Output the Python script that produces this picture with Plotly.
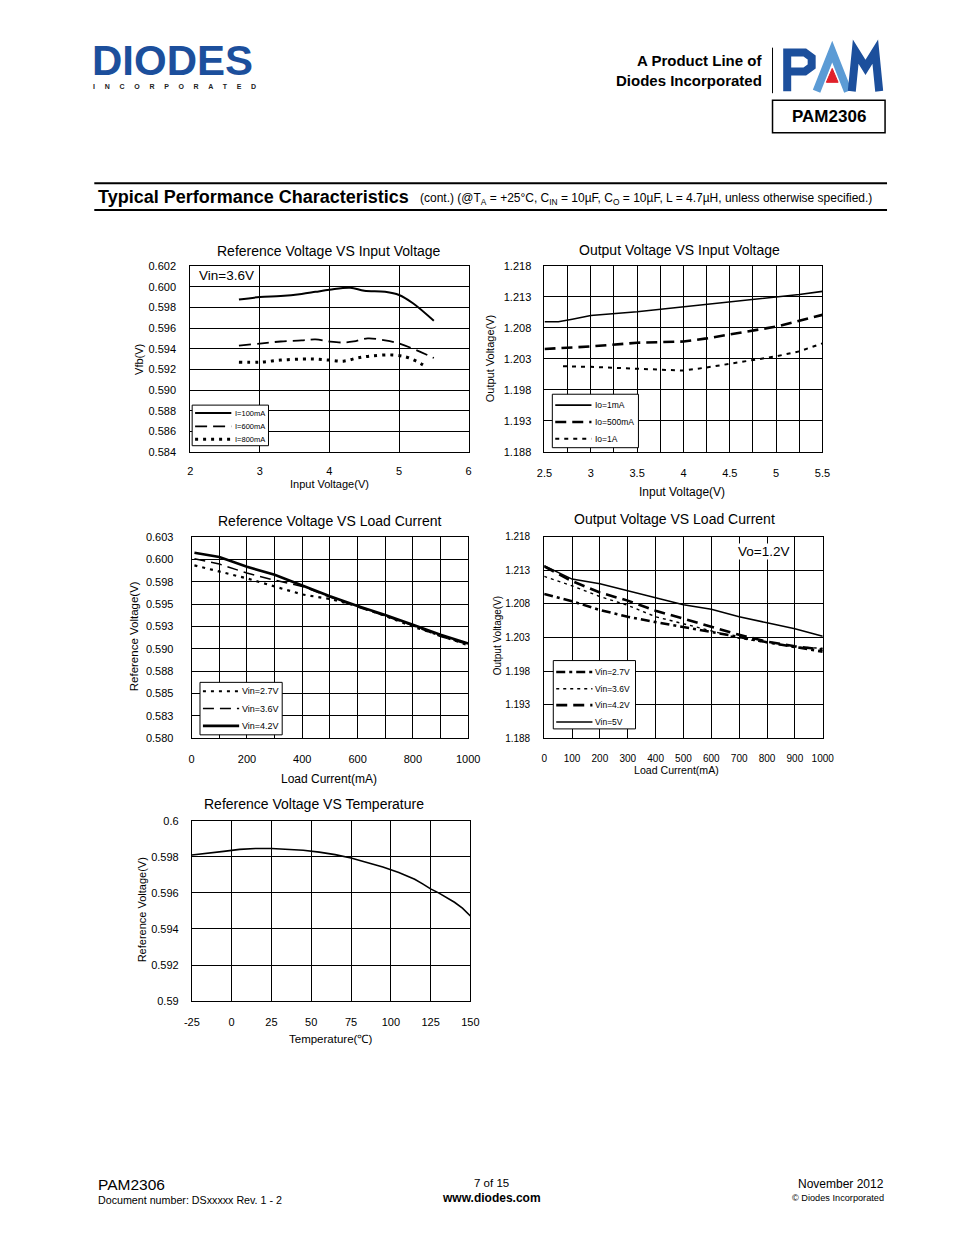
import plotly.graph_objects as go

# page is 954x1235; the html body has an 8px margin, so the figure is 16px smaller
OFF = 8
W, H = 954 - 2 * OFF, 1235 - 2 * OFF

# ---------------- data ----------------
# Chart 1: Reference Voltage VS Input Voltage
vin1_100 = [2.7, 3.0, 3.3, 3.6, 3.8, 4.0, 4.3, 4.5, 4.8, 5.0, 5.2, 5.5]
vfb_100 = [0.59875, 0.5990, 0.5991, 0.5993, 0.5995, 0.5997, 0.5999, 0.5996, 0.5995, 0.5992, 0.5984, 0.5967]
vin1_600 = [2.7, 3.0, 3.3, 3.6, 3.8, 4.0, 4.2, 4.35, 4.55, 4.8, 5.0, 5.2, 5.5]
vfb_600 = [0.5943, 0.5945, 0.5947, 0.5948, 0.5949, 0.5947, 0.5946, 0.5947, 0.5950, 0.5948, 0.5945, 0.5940, 0.5931]
vin1_800 = [2.7, 3.0, 3.3, 3.6, 3.8, 4.0, 4.2, 4.4, 4.6, 4.9, 5.1, 5.25, 5.4]
vfb_800 = [0.5927, 0.5927, 0.5929, 0.5930, 0.5930, 0.5929, 0.5928, 0.5931, 0.5933, 0.5934, 0.5932, 0.5928, 0.5922]
leg1 = ["I=100mA", "I=600mA", "I=800mA"]

# Chart 2: Output Voltage VS Input Voltage
vin2_1ma = [2.5, 2.65, 2.8, 3.0, 3.5, 4.0, 4.25, 4.5, 5.0, 5.25, 5.5]
vo_1ma = [1.2090, 1.2090, 1.2094, 1.2100, 1.2106, 1.2114, 1.2117, 1.2121, 1.2129, 1.2134, 1.2139]
vin2_500 = [2.5, 3.0, 3.5, 4.0, 4.25, 4.5, 5.0, 5.5]
vo_500 = [1.2046, 1.2050, 1.2056, 1.2058, 1.2063, 1.2069, 1.2082, 1.2101]
vin2_1a = [2.7, 3.0, 3.5, 4.0, 4.25, 4.5, 5.0, 5.25, 5.5]
vo_1a = [1.2018, 1.2017, 1.2014, 1.2011, 1.2016, 1.2022, 1.2034, 1.2042, 1.2055]
leg2 = ["Io=1mA", "Io=500mA", "Io=1A"]

# Chart 3: Reference Voltage VS Load Current
il3 = [10, 100, 200, 300, 400, 500, 600, 700, 800, 900, 1000]
ref_27 = [0.59936, 0.5987, 0.5979, 0.5970, 0.5961, 0.5956, 0.5948, 0.5937, 0.5925, 0.5915, 0.5904]
ref_36 = [0.6001, 0.5995, 0.5985, 0.5977, 0.5970, 0.5958, 0.5947, 0.5937, 0.5926, 0.5914, 0.5905]
ref_42 = [0.60076, 0.6003, 0.5992, 0.5983, 0.5971, 0.5959, 0.5948, 0.5938, 0.5927, 0.5916, 0.5906]
leg3 = ["Vin=2.7V", "Vin=3.6V", "Vin=4.2V"]
y3_ticks = [0.5800, 0.5825, 0.5850, 0.5875, 0.5900, 0.5925, 0.5950, 0.5975, 0.6000, 0.6025]
y3_text = ["0.580", "0.583", "0.585", "0.588", "0.590", "0.593", "0.595", "0.598", "0.600", "0.603"]

# Chart 4: Output Voltage VS Load Current
il4 = [0, 100, 200, 300, 400, 500, 600, 700, 800, 900, 1000]
vo_27 = [1.2095, 1.2084, 1.2071, 1.2061, 1.2053, 1.2046, 1.2039, 1.2031, 1.2023, 1.2016, 1.2009]
vo_36 = [1.2121, 1.2107, 1.2091, 1.2078, 1.2061, 1.2051, 1.2040, 1.2029, 1.2023, 1.2016, 1.2014]
vo_42 = [1.2136, 1.2114, 1.2097, 1.2085, 1.2070, 1.2058, 1.2046, 1.2034, 1.2024, 1.2017, 1.2012]
vo_5 = [1.2137, 1.2117, 1.2110, 1.2100, 1.2090, 1.2079, 1.2072, 1.2061, 1.2052, 1.2043, 1.2032]
leg4 = ["Vin=2.7V", "Vin=3.6V", "Vin=4.2V", "Vin=5V"]

# Chart 5: Reference Voltage VS Temperature
temp = [-25, -15, -5, 5, 15, 25, 35, 45, 55, 65, 75, 85, 95, 105, 115, 120, 125, 130, 135, 140, 145, 150]
vref_t = [0.5981, 0.59818, 0.5983, 0.59841, 0.59846, 0.59846, 0.59843, 0.59836, 0.59826, 0.59812, 0.59793,
          0.5977, 0.59743, 0.59713, 0.59675, 0.5965, 0.59622, 0.5960, 0.59575, 0.59548, 0.59515, 0.59472]
x5_ticks = [-25, 0, 25, 50, 75, 100, 125, 150]
x5_text = ["-25", "0", "25", "50", "75", "100", "125", "150"]
y5_ticks = [0.590, 0.592, 0.594, 0.596, 0.598, 0.600]
y5_text = ["0.59", "0.592", "0.594", "0.596", "0.598", "0.6"]

FONT = "Arial, Liberation Sans, sans-serif"


def px(x):
    return (x - OFF) / W


def py(y):
    return 1 - (y - OFF) / H


fig = go.Figure()


def add(x, y, ax, dash, width, shape="linear"):
    fig.add_trace(go.Scatter(x=x, y=y, mode="lines", xaxis="x" + ax, yaxis="y" + ax,
                             line=dict(color="black", width=width, dash=dash, shape=shape),
                             showlegend=False, hoverinfo="skip"))


# chart 1
s1 = [("solid", 2), ("12px,6px", 1.8), ("3px,5px", 3)]
add(vin1_100, vfb_100, "", *s1[0], shape="spline")
add(vin1_600, vfb_600, "", *s1[1], shape="spline")
add(vin1_800, vfb_800, "", *s1[2], shape="spline")
# chart 2
s2 = [("solid", 1.6), ("11px,6px", 2.6), ("4px,5px", 2)]
add(vin2_1ma, vo_1ma, "2", *s2[0])
add(vin2_500, vo_500, "2", *s2[1])
add(vin2_1a, vo_1a, "2", *s2[2])
# chart 3
s3 = [("3px,5px", 2.2), ("11px,6px", 1.5), ("solid", 2.6)]
add(il3, ref_27, "3", *s3[0])
add(il3, ref_36, "3", *s3[1])
add(il3, ref_42, "3", *s3[2])
# chart 4
s4 = [("9px,4px,3px,4px", 2.6), ("3px,4px", 1.4), ("11px,6px", 2.6), ("solid", 1.5)]
add(il4, vo_27, "4", *s4[0])
add(il4, vo_36, "4", *s4[1])
add(il4, vo_42, "4", *s4[2])
add(il4, vo_5, "4", *s4[3])
# chart 5
add(temp, vref_t, "5", "solid", 1.6)


def axis(dom, **kw):
    d = dict(domain=dom, showline=True, mirror=True, linecolor="black", linewidth=1,
             showgrid=True, gridcolor="black", gridwidth=1, zeroline=False, ticks="",
             tickfont=dict(family=FONT, size=11, color="black"), ticklabelstandoff=7,
             fixedrange=True)
    d.update(kw)
    return d


# pixel boxes (x0, x1, ytop, ybottom) in page pixels
b1 = (186, 470.5, 262.5, 450.5)
b2 = (548, 832, 262.5, 450)
b3 = (187.5, 470, 536.5, 739.5)
b4 = (547.7, 832.3, 536, 739.5)
b5 = (187.7, 472.3, 822.7, 1005)


def xd(b):
    return [px(b[0]), px(b[1])]


def yd(b):
    return [py(b[3]), py(b[2])]


TF10 = dict(family=FONT, size=10, color="black")
layout = dict(
    width=W, height=H, margin=dict(l=0, r=0, t=0, b=0),
    paper_bgcolor="white", plot_bgcolor="white",
    font=dict(family=FONT, color="black"),
    xaxis=axis(xd(b1), range=[2, 6], tick0=2, dtick=1, anchor="y", ticklabelstandoff=9),
    yaxis=axis(yd(b1), range=[0.584, 0.602], tick0=0.584, dtick=0.002, tickformat=".3f", anchor="x",
               ticklabelstandoff=11),
    xaxis2=axis(xd(b2), range=[2.5, 5.5], tick0=2.5, dtick=0.5, anchor="y2",
                minor=dict(dtick=0.25, tick0=2.5, showgrid=True, gridcolor="black", gridwidth=1),
                ticklabelstandoff=11),
    yaxis2=axis(yd(b2), range=[1.188, 1.218], tickvals=[1.188, 1.193, 1.198, 1.203, 1.208, 1.213, 1.218],
                tickformat=".3f", anchor="x2", ticklabelstandoff=10),
    xaxis3=axis(xd(b3), range=[0, 1000], tick0=0, dtick=200, anchor="y3",
                minor=dict(dtick=100, tick0=0, showgrid=True, gridcolor="black", gridwidth=1),
                ticklabelstandoff=11),
    yaxis3=axis(yd(b3), range=[0.580, 0.6025], tickvals=y3_ticks, ticktext=y3_text, anchor="x3",
                ticklabelstandoff=15),
    xaxis4=axis(xd(b4), range=[0, 1000], tick0=0, dtick=100, anchor="y4", tickfont=TF10, ticklabelstandoff=11),
    yaxis4=axis(yd(b4), range=[1.188, 1.218], tickvals=[1.188, 1.193, 1.198, 1.203, 1.208, 1.213, 1.218],
                tickformat=".3f", anchor="x4", tickfont=TF10, ticklabelstandoff=11),
    xaxis5=axis(xd(b5), range=[-25, 150], tickvals=x5_ticks, ticktext=x5_text, anchor="y5", ticklabelstandoff=11),
    yaxis5=axis(yd(b5), range=[0.590, 0.600], tickvals=y5_ticks, ticktext=y5_text, anchor="x5",
                ticklabelstandoff=10),
)
fig.update_layout(**layout)

ann = []
shapes = []


def text(x, y, s, size, xa="center", ya="middle", angle=0, color="black", family=FONT, bg=None):
    a = dict(x=px(x), y=py(y), xref="paper", yref="paper", text=s, showarrow=False,
             xanchor=xa, yanchor=ya, textangle=angle,
             font=dict(size=size, color=color, family=family))
    if bg:
        a["bgcolor"] = bg
        a["borderpad"] = 0
    ann.append(a)


def line(x0, y0, x1, y1, width=1, dash="solid", color="black"):
    shapes.append(dict(type="line", xref="paper", yref="paper", x0=px(x0), y0=py(y0), x1=px(x1), y1=py(y1),
                       line=dict(color=color, width=width, dash=dash)))


def rect(x0, y0, x1, y1, width=1, color="black", fill="white"):
    shapes.append(dict(type="rect", xref="paper", yref="paper", x0=px(x0), y0=py(y0), x1=px(x1), y1=py(y1),
                       line=dict(color=color, width=width), fillcolor=fill))


def path(points, width, color, fill=None, close=False):
    d = "M " + " L ".join(f"{px(a):.5f},{py(b):.5f}" for a, b in points)
    if close:
        d += " Z"
    sh = dict(type="path", xref="paper", yref="paper", path=d, line=dict(color=color, width=width))
    if fill:
        sh["fillcolor"] = fill
    shapes.append(sh)


# ---- chart titles / axis titles ----
text(328, 247, "Reference Voltage VS Input Voltage", 14)
text(328, 483, "Input Voltage(V)", 11)
text(133, 357, "Vfb(V)", 11, angle=-90)
text(194, 272, "Vin=3.6V", 13.5, xa="left", bg="white")

text(686, 246, "Output Voltage VS Input Voltage", 14)
text(689, 491, "Input Voltage(V)", 12)
text(492, 356, "Output Voltage(V)", 11, angle=-90)

text(328, 520, "Reference Voltage VS Load Current", 14)
text(328, 781, "Load Current(mA)", 12)
text(128, 636, "Reference Voltage(V)", 11.5, angle=-90)

text(681, 518, "Output Voltage VS Load Current", 14)
text(683, 772, "Load Current(mA)", 10.6)
text(500, 636, "Output Voltage(V)", 10, angle=-90)
text(745, 551, "Vo=1.2V", 13.5, xa="left", bg="white")

text(312, 806, "Reference Voltage VS Temperature", 14)
text(329, 1043, "Temperature(℃)", 11.5)
text(137, 913, "Reference Voltage(V)", 11, angle=-90)


# ---- legends (boxes with sample lines) ----
def legend(box, rows, labels, styles, lx0, lx1, tx, size):
    rect(*box)
    for yy, lab, (dash, wdt) in zip(rows, labels, styles):
        line(lx0, yy, lx1, yy, width=wdt, dash=dash)
        text(tx, yy, lab, size, xa="left")


legend((188, 403, 266, 444), [411, 424.5, 437.5], leg1, s1, 191, 228, 229.5, 7.5)
legend((556, 392, 644, 446), [403, 420, 437], leg2, s2, 559, 596, 597.5, 8.5)
legend((196, 683, 280, 736), [692, 709.5, 727], leg3, s3, 199, 236, 236.5, 9)
legend((557, 661, 641, 730), [672.5, 689.5, 706, 723], leg4, s4, 560, 597, 597.5, 8.5)

# ---- header ----
text(84, 55, "<b>DIODES</b>", 42, xa="left", color="#1c4f9c", family="Liberation Sans, Arial")
text(85, 81.5, "<b>" + "     ".join("INCORPORATED") + "</b>", 7, xa="left", color="#222222")
text(772, 55, "<b>A Product Line of</b>", 15, xa="right")
text(772, 75, "<b>Diodes Incorporated</b>", 15, xa="right")
line(781, 42, 781, 88, width=1)
# PAM logo
path([(796, 86), (796, 47), (814, 47), (821, 52), (821, 61), (814, 66), (799, 66)], 8, "#1c4f9c")
path([(826, 86), (842, 46), (858, 86)], 8, "#5b9bd5")
path([(842, 63), (836, 77), (848, 77)], 1, "#e0202a", fill="#e0202a", close=True)
path([(862, 86), (866, 46), (876, 62), (886, 46), (890, 86)], 8, "#1c4f9c")
rect(781, 95, 896, 128, width=1.5)
text(838.5, 112, "<b>PAM2306</b>", 17)

# ---- section title ----
line(88, 179, 898, 179, width=2)
line(88, 206, 898, 206, width=2)
text(90, 193, "<b>Typical Performance Characteristics</b>", 18, xa="left")
text(419, 194.5, "(cont.) (@T<sub>A</sub> = +25°C, C<sub>IN</sub> = 10µF, C<sub>O</sub> = 10µF, L = 4.7µH, "
     "unless otherwise specified.)", 12, xa="left")

# ---- footer ----
text(90, 1190, "PAM2306", 15.5, xa="left")
text(90, 1206, "Document number: DSxxxxx Rev. 1 - 2", 10.7, xa="left")
text(494, 1189, "7 of 15", 11.5)
text(494, 1204, "<b>www.diodes.com</b>", 12)
text(897, 1190, "November 2012", 12, xa="right")
text(897, 1204, "© Diodes Incorporated", 9.2, xa="right")

fig.update_layout(annotations=ann, shapes=shapes)

fig.write_html("out.html")
